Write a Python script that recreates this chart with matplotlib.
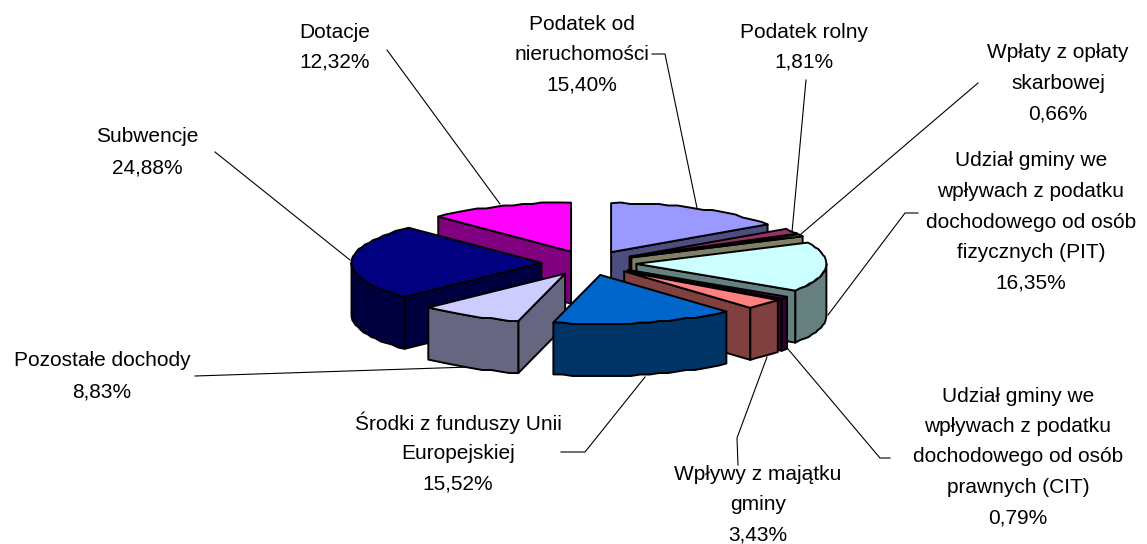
import numpy as np
import matplotlib
matplotlib.use("Agg")
import matplotlib.pyplot as plt
from matplotlib.patches import Polygon

labels = ["Podatek od\nnieruchomości", "Podatek rolny", "Wpłaty z opłaty\nskarbowej",
          "Udział gminy we\nwpływach z podatku\ndochodowego od osób\nfizycznych (PIT)",
          "Udział gminy we\nwpływach z podatku\ndochodowego od osób\nprawnych (CIT)",
          "Wpływy z majątku\ngminy", "Środki z funduszy Unii\nEuropejskiej",
          "Pozostałe dochody", "Subwencje", "Dotacje"]
values = [15.40, 1.81, 0.66, 16.35, 0.79, 3.43, 15.52, 8.83, 24.88, 12.32]
value_text = ["15,40%", "1,81%", "0,66%", "16,35%", "0,79%", "3,43%", "15,52%", "8,83%", "24,88%", "12,32%"]
colors = ["#9999FF", "#993366", "#FFFFCC", "#CCFFFF", "#660066", "#FF8080", "#0066CC", "#CCCCFF", "#000080", "#FF00FF"]
sides = ["#4D4D80", "#4D1A33", "#808066", "#668080", "#330033", "#804040", "#003366", "#666680", "#000040", "#800080"]
draw_order = [9, 0, 1, 2, 3, 8, 4, 5, 7, 6]

label_xy = [(582, 24), (804, 32), (1058, 53), (1031, 161), (1018, 396), (758, 474), (458, 423), (102, 361), (147, 137), (335, 32)]
leaders = [
    [(652, 54), (665, 54), (697, 208)],
    [(806, 80), (792, 232)],
    [(978, 83), (801, 234)],
    [(918, 213), (905, 213), (828, 315)],
    [(890, 458), (880, 458), (788, 349)],
    [(738, 465), (737, 438), (767, 357)],
    [(561, 452), (585, 452), (645, 377)],
    [(195, 376), (470, 367)],
    [(215, 152), (350, 260)],
    [(387, 50), (500, 204)],
]

cx, cy, rx, ry, depth, explode = 589.0, 263.0, 190.0, 49.0, 52.0, 0.25

fig = plt.figure(figsize=(11.47, 5.44), dpi=100)
ax = fig.add_axes([0, 0, 1, 1])
ax.set_xlim(0, 1147)
ax.set_ylim(544, 0)
ax.axis("off")
plt.rcParams["font.family"] = ["Liberation Sans", "DejaVu Sans"]


def rim(ax0, ay0, a, b):
    n = max(2, int(abs(b - a) / 3) + 2)
    t = np.radians(np.linspace(a, b, n))
    x = ax0 + rx * np.sin(t)
    y = ay0 - ry * np.cos(t)
    # slight stepping of the original renderer's outline
    y[1:-1] = np.round(y[1:-1] / 1.5) * 1.5
    return np.column_stack([x, y])


def poly(pts, color, z):
    ax.add_patch(Polygon(pts, closed=True, facecolor=color, edgecolor="black",
                         lw=1.4, joinstyle="round", zorder=z))


edges = np.concatenate([[0], np.cumsum(values)]) / np.sum(values) * 360.0
z = 2
for i in draw_order:
    a, b = edges[i], edges[i + 1]
    mid = np.radians((a + b) / 2)
    px = cx + explode * rx * np.sin(mid)
    py = cy - explode * ry * np.cos(mid)
    apex = np.array([px, py])
    drop = np.array([0, depth])
    for ang, vis in ((a, np.sin(np.radians(a)) < 0), (b, np.sin(np.radians(b)) > 0)):
        if vis:
            p = np.array([px + rx * np.sin(np.radians(ang)), py - ry * np.cos(np.radians(ang))])
            poly([apex, p, p + drop, apex + drop], sides[i], z)
            z += 1
    lo, hi = max(a, 90), min(b, 270)
    if hi > lo:
        r = rim(px, py, lo, hi)
        poly(np.vstack([r, (r + drop)[::-1]]), sides[i], z)
        z += 1
    poly(np.vstack([apex, rim(px, py, a, b)]), colors[i], z)
    z += 1

for name, vt, (x, y), line in zip(labels, value_text, label_xy, leaders):
    xs, ys = zip(*line)
    ax.plot(xs, ys, color="black", lw=0.8, zorder=1)
    for k, s in enumerate(name.split("\n") + [vt]):
        ax.text(x, y + k * 30.5, s, ha="center", va="center", fontsize=15, color="black",
                family=["Liberation Sans", "DejaVu Sans"], zorder=50)

fig.savefig("out.png", dpi=100, facecolor="white")
